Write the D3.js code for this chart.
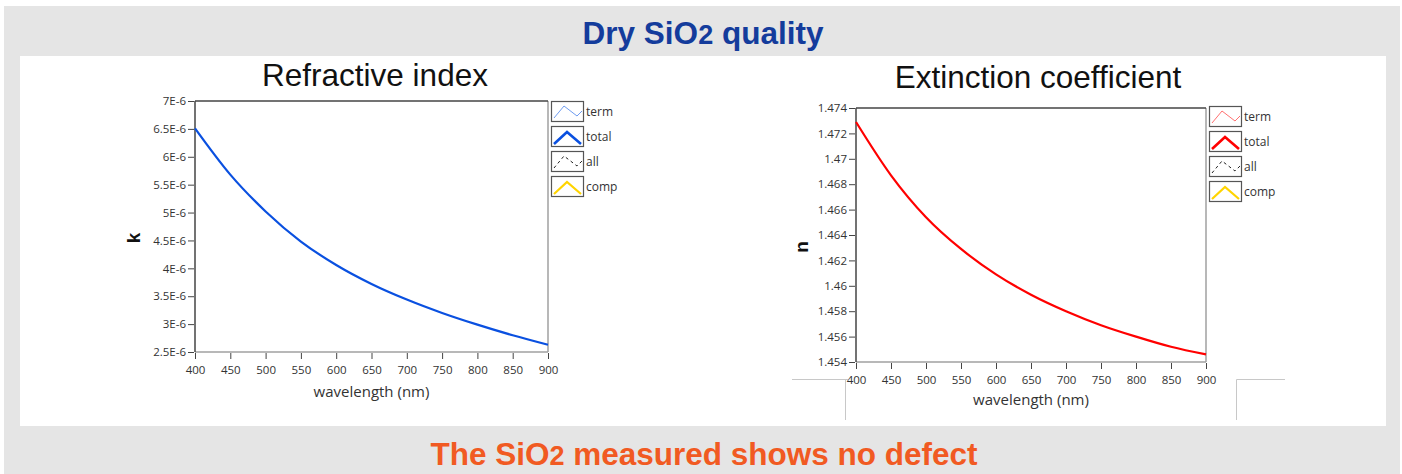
<!DOCTYPE html>
<html>
<head>
<meta charset="utf-8">
<script src="https://cdn.jsdelivr.net/npm/d3@7"></script>
<style>
  html, body { margin: 0; padding: 0; background: #fff; }
  svg { display: block; }
  .tick text { font-family: "Open Sans", sans-serif; font-size: 11.5px; fill: #333; }
</style>
</head>
<body>
<div id="chart"></div>
<script>
// wavelengths (nm)
var wavelengths = [400, 450, 500, 550, 600, 650, 700, 750, 800, 850, 900];
// k curve (left panel), x1e-6
var kValues = [6.51, 5.68, 5.02, 4.48, 4.06, 3.72, 3.44, 3.20, 2.99, 2.80, 2.63];
// n curve (right panel)
var nValues = [1.4729, 1.4687, 1.4654, 1.4629, 1.4609, 1.4593, 1.4580, 1.4569, 1.4560, 1.4552, 1.4546];

var xTicks = [400, 450, 500, 550, 600, 650, 700, 750, 800, 850, 900];
var kTicks = [2.5, 3, 3.5, 4, 4.5, 5, 5.5, 6, 6.5, 7];
var kTickLabels = ["2.5E-6", "3E-6", "3.5E-6", "4E-6", "4.5E-6", "5E-6", "5.5E-6", "6E-6", "6.5E-6", "7E-6"];
var nTicks = [1.454, 1.456, 1.458, 1.46, 1.462, 1.464, 1.466, 1.468, 1.47, 1.472, 1.474];
var nTickLabels = ["1.454", "1.456", "1.458", "1.46", "1.462", "1.464", "1.466", "1.468", "1.47", "1.472", "1.474"];
var legendNames = ["term", "total", "all", "comp"];

var W = 1402, H = 474;
var svg = d3.select('#chart').append('svg')
  .attr('width', W).attr('height', H);

// slide background
svg.append('rect').attr('x', 4).attr('y', 6).attr('width', 1396).attr('height', 468).attr('fill', '#e5e5e5');
svg.append('rect').attr('x', 20).attr('y', 56).attr('width', 1366).attr('height', 370).attr('fill', '#fff');

// headline + footer
var title = svg.append('text').attr('x', 703).attr('y', 44).attr('text-anchor', 'middle')
  .attr('font-family', 'Liberation Sans, Arial, sans-serif').attr('font-weight', 'bold')
  .attr('font-size', 31.5).attr('fill', '#143c9c');
title.append('tspan').text('Dry SiO');
title.append('tspan').attr('font-size', 27).text('2');
title.append('tspan').text(' quality');

var foot = svg.append('text').attr('x', 704).attr('y', 465).attr('text-anchor', 'middle')
  .attr('font-family', 'Liberation Sans, Arial, sans-serif').attr('font-weight', 'bold')
  .attr('font-size', 31.5).attr('fill', '#f15a22');
foot.append('tspan').text('The SiO');
foot.append('tspan').attr('font-size', 27).text('2');
foot.append('tspan').text(' measured shows no defect');

// one panel
function panel(cfg) {
  var g = svg.append('g');
  var x = d3.scaleLinear().domain([400, 900]).range([cfg.left, cfg.right]);
  var y = d3.scaleLinear().domain(cfg.yDomain).range([cfg.bottom, cfg.top]);

  g.append('text').attr('x', cfg.titleX).attr('y', cfg.titleY).attr('text-anchor', 'middle')
    .attr('font-family', 'Liberation Sans, Arial, sans-serif').attr('font-size', 31.5)
    .attr('fill', '#111').text(cfg.title);

  // frame
  g.append('line').attr('x1', cfg.left).attr('x2', cfg.right).attr('y1', cfg.bottom).attr('y2', cfg.bottom)
    .attr('stroke', '#a0a0a0').attr('stroke-width', 1.5);
  g.append('line').attr('x1', cfg.right).attr('x2', cfg.right).attr('y1', cfg.top).attr('y2', cfg.bottom)
    .attr('stroke', '#a0a0a0').attr('stroke-width', 1.5);
  g.append('line').attr('x1', cfg.left).attr('x2', cfg.right).attr('y1', cfg.top).attr('y2', cfg.top)
    .attr('stroke', '#444').attr('stroke-width', 1.5);
  g.append('line').attr('x1', cfg.left).attr('x2', cfg.left).attr('y1', cfg.top).attr('y2', cfg.bottom)
    .attr('stroke', '#444').attr('stroke-width', 1.5);

  var xAxis = d3.axisBottom(x).tickValues(xTicks).tickSize(6).tickPadding(7).tickFormat(d3.format('d'));
  var gx = g.append('g').attr('transform', 'translate(0,' + (cfg.bottom + 1) + ')').call(xAxis);
  gx.select('.domain').remove();
  gx.selectAll('.tick line').attr('stroke', '#444');

  var yAxis = d3.axisLeft(y).tickValues(cfg.yTicks).tickSize(6).tickPadding(2)
    .tickFormat(function (d, i) { return cfg.yLabels[i]; });
  var gy = g.append('g').attr('transform', 'translate(' + (cfg.left - 1) + ',0)').call(yAxis);
  gy.select('.domain').remove();
  gy.selectAll('.tick line').attr('stroke', '#444');

  g.append('text').attr('x', (cfg.left + cfg.right) / 2).attr('y', cfg.xLabelY).attr('text-anchor', 'middle')
    .attr('font-family', 'Open Sans, sans-serif').attr('font-size', 15).attr('fill', '#333')
    .text('wavelength (nm)');

  g.append('text').attr('transform', 'translate(' + cfg.yLabelX + ',' + cfg.yLabelY + ') rotate(-90)')
    .attr('text-anchor', 'middle').attr('font-family', 'Liberation Sans, Arial, sans-serif')
    .attr('font-weight', 'bold').attr('font-size', 19).attr('fill', '#111').text(cfg.yName);

  var line = d3.line()
    .x(function (d, i) { return x(wavelengths[i]); })
    .y(function (d) { return y(d); })
    .curve(d3.curveMonotoneX);
  g.append('path').datum(cfg.values).attr('fill', 'none')
    .attr('stroke', cfg.color).attr('stroke-width', 2.2).attr('d', line);

  // legend
  var lg = g.selectAll('.leg').data(legendNames).enter().append('g')
    .attr('transform', function (d, i) { return 'translate(' + cfg.legX + ',' + (cfg.legY + i * 25) + ')'; });
  lg.append('rect').attr('x', 0.5).attr('y', 0.5).attr('width', 32).attr('height', 20)
    .attr('fill', '#fff').attr('stroke', '#555').attr('stroke-width', 1.2);
  lg.append('path').attr('fill', 'none')
    .attr('d', function (d, i) {
      return (i === 0 || i === 2) ? 'M3,17 L13,5 L26,15 L31,10' : 'M3,18 L16,6 L30,18';
    })
    .attr('stroke', function (d, i) { return [cfg.light, cfg.color, '#222', '#ffd400'][i]; })
    .attr('stroke-width', function (d, i) { return [1, 2.6, 1, 2.2][i]; })
    .attr('stroke-dasharray', function (d, i) { return i === 2 ? '3,3' : null; });
  lg.append('text').attr('x', 35).attr('y', 14.5).attr('font-family', 'Open Sans, sans-serif')
    .attr('font-size', 12).attr('fill', '#333').text(function (d) { return d; });
  return g;
}

panel({
  left: 195, right: 548, top: 101, bottom: 352,
  yDomain: [2.5, 7], yTicks: kTicks, yLabels: kTickLabels,
  values: kValues, color: '#0a50e0', light: '#6f9cf0',
  title: 'Refractive index', titleX: 375, titleY: 86,
  xLabelY: 397, yName: 'k', yLabelX: 140, yLabelY: 238,
  legX: 551, legY: 101
});

panel({
  left: 856, right: 1206, top: 108, bottom: 362,
  yDomain: [1.454, 1.474], yTicks: nTicks, yLabels: nTickLabels,
  values: nValues, color: '#ff0000', light: '#ff7070',
  title: 'Extinction coefficient', titleX: 1038, titleY: 88,
  xLabelY: 405, yName: 'n', yLabelX: 808, yLabelY: 247,
  legX: 1209, legY: 106
});

// leftover screenshot frame lines under the right panel
var frame = svg.append('g').attr('stroke', '#c8c8c8').attr('stroke-width', 1).attr('fill', 'none');
frame.append('path').attr('d', 'M792,379.5 H848 M845.5,379 V420');
frame.append('path').attr('d', 'M1285,379.5 H1236.5 V420');
</script>
</body>
</html>
